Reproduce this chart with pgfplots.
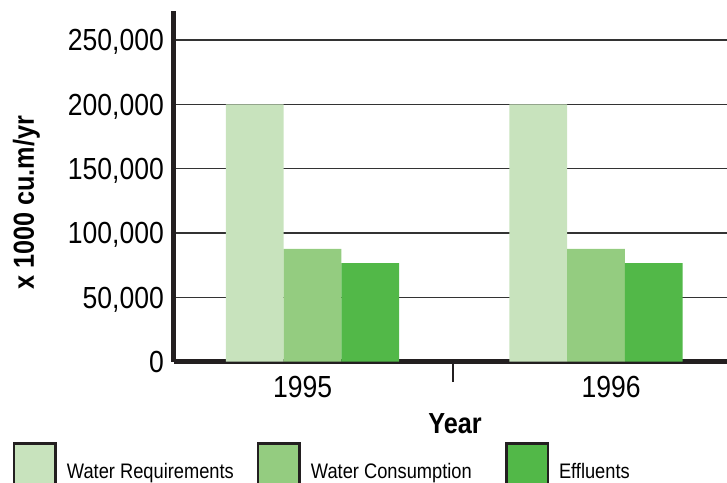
\documentclass[border=0pt]{standalone}
\usepackage{fontspec}
\setmainfont{Liberation Sans}[FakeStretch=0.87]
\usepackage{pgfplots}
\pgfplotsset{compat=1.18}
\definecolor{axiscol}{HTML}{231F20}
\definecolor{reqcol}{HTML}{C8E3BD}
\definecolor{conscol}{HTML}{94CC80}
\definecolor{effcol}{HTML}{52B848}
\newcommand{\tickfont}{\fontsize{30.5}{36}\selectfont}
\newcommand{\labfont}{\fontsize{29}{34}\selectfont\bfseries}
\newcommand{\legfont}{\fontsize{21}{25}\selectfont}
\begin{document}
\begin{tikzpicture}
\useasboundingbox (-174pt,-120.5pt) rectangle (553pt,361.5pt);
\clip (-174pt,-120.5pt) rectangle (553pt,361.5pt);
\begin{axis}[
  at={(0pt,0pt)}, anchor=south west,
  scale only axis, width=553pt, height=350.5pt,
  xmin=-0.4885, xmax=1.462, ymin=0, ymax=272550,
  axis x line=bottom, axis y line=left,
  axis line style={-, line width=5pt, color=axiscol},
  ybar, bar width=0.2035,
  ytick={0,50000,100000,150000,200000,250000},
  scaled y ticks=false,
  yticklabel style={font=\tickfont, anchor=base east, inner sep=0pt, xshift=-10pt, yshift=-10.9pt,
    /pgf/number format/.cd, fixed, 1000 sep={,}, assume math mode=true},
  ymajorgrids, grid style={line width=1.3pt, color=black!80},
  xtick={-0.035,1.053}, xticklabels={1995,1996},
  xticklabel style={font=\tickfont, anchor=base, inner sep=0pt, yshift=-35.5pt},
  major tick length=0pt,
  extra x ticks={0.496}, extra x tick labels={},
  extra x tick style={major tick length=20.5pt, tick align=outside,
    tick style={line width=2.3pt, color=axiscol}, grid=none},
  xlabel={Year},
  xlabel style={font=\labfont, at={(axis description cs:0.5081,-0.204)}, anchor=base},
  ylabel={x 1000 cu.m/yr},
  ylabel style={font=\labfont, at={(axis description cs:-0.2532,0.4522)}, anchor=base},
  legend columns=3,
  legend style={at={(axis description cs:-0.29114,-0.22967)}, anchor=north west,
    draw=none, fill=none, inner sep=0pt, outer sep=0pt, font=\legfont,
    cells={anchor=base west}, nodes={inner sep=0pt, outer sep=0pt},
    /tikz/every odd column/.append style={column sep=10pt}},
  legend image code/.code={\draw[#1, draw=axiscol, line width=2.5pt] (0pt,-14pt) rectangle (41.5pt,34.75pt);},
]
\addplot[fill=reqcol, draw=none, bar shift=-0.2035] coordinates {(0,200000) (1,200000)};
\addlegendentry{\makebox[190pt][l]{Water Requirements}}
\addplot[fill=conscol, draw=none, bar shift=0] coordinates {(0,87500) (1,87500)};
\addlegendentry{\makebox[194pt][l]{Water Consumption}}
\addplot[fill=effcol, draw=none, bar shift=0.2035] coordinates {(0,76500) (1,76500)};
\addlegendentry{Effluents}
\end{axis}
\end{tikzpicture}
\end{document}
